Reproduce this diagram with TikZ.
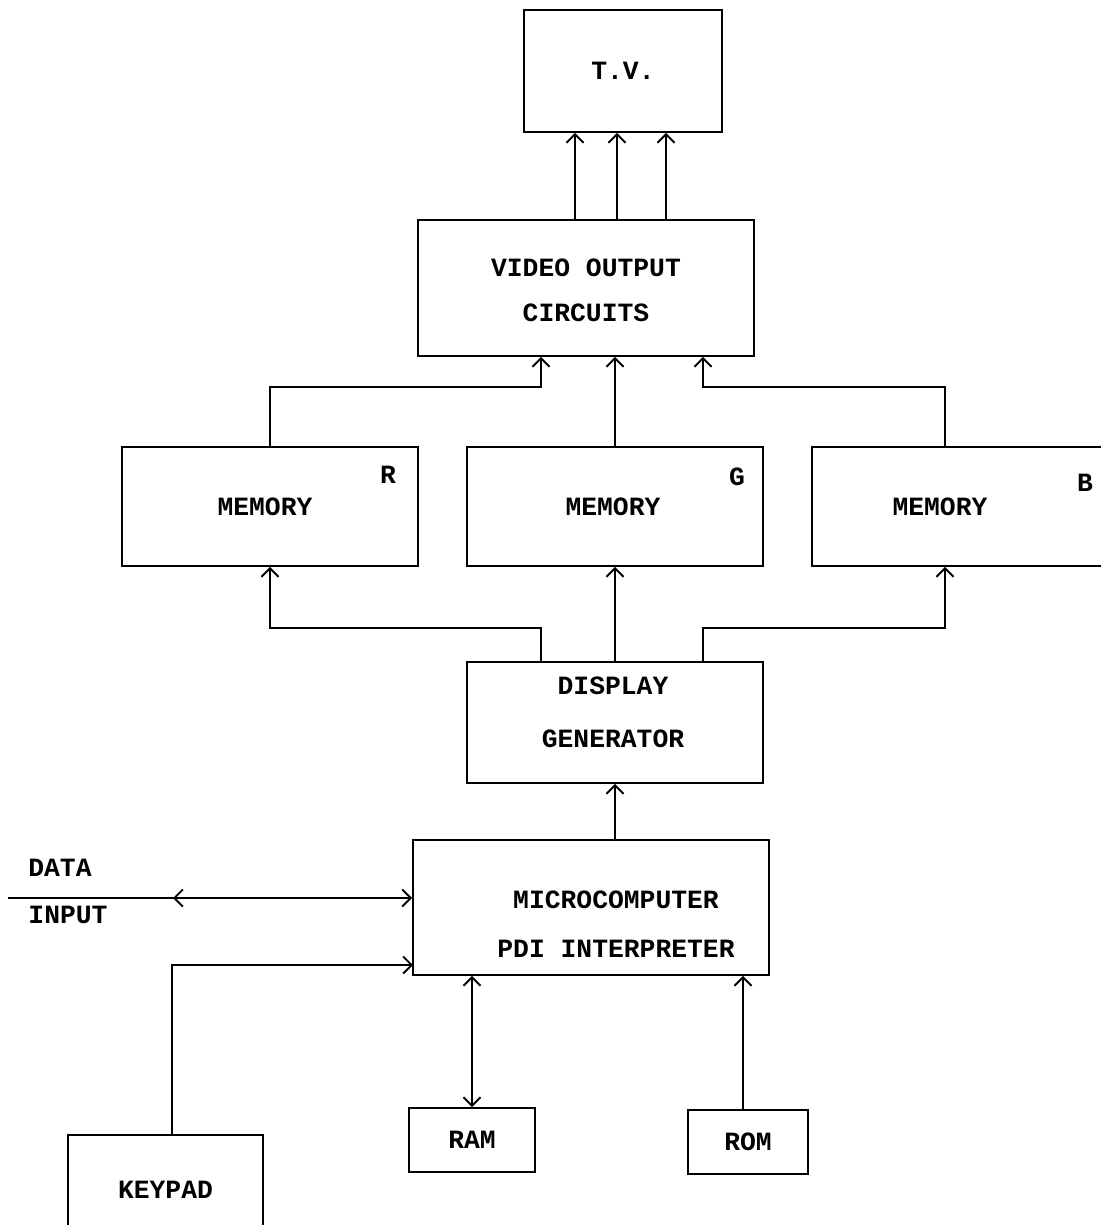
\documentclass[tikz,border=0pt]{standalone}
\usepackage{fontspec}
\setmonofont{Liberation Mono}
\usetikzlibrary{arrows.meta}
\tikzset{
	blk/.style={draw, line width=1.1pt, inner sep=0pt, font=\ttfamily\bfseries\fontsize{15}{18}\selectfont, align=center},
	txt/.style={inner sep=0pt, align=center, font=\ttfamily\bfseries\fontsize{15}{18}\selectfont},
	arr/.style={line width=1.1pt, -{Straight Barb[length=1.7mm,width=3.4mm]}},
	darr/.style={line width=1.1pt, {Straight Barb[length=1.7mm,width=3.4mm]}-{Straight Barb[length=1.7mm,width=3.4mm]}},
	wire/.style={line width=1.1pt}
}

\begin{document}
\begin{tikzpicture}[x=0.02cm, y=-0.02cm]
		%%%%% START %%%%%
		\useasboundingbox (0, 0) rectangle (1101, 1225);
		
		\node[blk, minimum width=3.96cm, minimum height=2.44cm] (tv) at (623, 71) {T.V.};
		\node[blk, minimum width=6.72cm, minimum height=2.72cm] (video) at (586, 288) {};
		\node[txt] (videot) at (586, 290) {VIDEO OUTPUT\\[0.27cm]CIRCUITS};
		
		\node[blk, minimum width=5.92cm, minimum height=2.38cm] (memR) at (270, 506.5) {};
		\node[blk, minimum width=5.92cm, minimum height=2.38cm] (memG) at (615, 506.5) {};
		\node[blk, minimum width=6.16cm, minimum height=2.38cm] (memB) at (966, 506.5) {};
		\node[txt] (memRt) at (265, 507) {MEMORY};
		\node[txt] (memGt) at (613, 507) {MEMORY};
		\node[txt] (memBt) at (940, 507) {MEMORY};
		\node[txt] (lr) at (388, 475) {R};
		\node[txt] (lg) at (737, 477) {G};
		\node[txt] (lb) at (1085, 483) {B};
		
		\node[blk, minimum width=5.92cm, minimum height=2.42cm] (disp) at (615, 722.5) {};
		\node[txt] (dispt) at (613, 712) {DISPLAY\\[0.42cm]GENERATOR};
		\node[blk, minimum width=7.12cm, minimum height=2.7cm] (mc) at (591, 907.5) {};
		\node[txt] (mct) at (616, 924) {MICROCOMPUTER\\[0.34cm]PDI INTERPRETER};
		
		\node[blk, minimum width=2.52cm, minimum height=1.28cm] (ram) at (472, 1140) {RAM};
		\node[blk, minimum width=2.4cm, minimum height=1.28cm] (rom) at (748, 1142) {ROM};
		\node[blk, minimum width=3.9cm, minimum height=2.2cm] (kp) at (165.5, 1190) {KEYPAD};
		
		\node[txt] (ldata) at (60, 868) {DATA};
		\node[txt] (linput) at (68, 915) {INPUT};
		
		% video circuits to T.V.
		\foreach \dx in {-0.96cm, -0.12cm, 0.86cm}
			\draw[arr] ([xshift=\dx]tv.south |- video.north) -- ([xshift=\dx]tv.south);
		
		% memories to video circuits
		\coordinate (vr) at (541, 387);
		\coordinate (vb) at (703, 387);
		\draw[arr] (memR.north) |- (vr) -- (vr |- video.south);
		\draw[arr] (memG.north) -- (memG.north |- video.south);
		\draw[arr] ([xshift=-0.42cm]memB.north) |- (vb) -- (vb |- video.south);
		
		% display generator to memories
		\coordinate (dl) at (541, 628);
		\coordinate (dr) at (703, 628);
		\draw[arr] (dl |- disp.north) -- (dl) -| (memR.south);
		\draw[arr] (disp.north) -- (memG.south);
		\draw[arr] (dr |- disp.north) -- (dr) -| ([xshift=-0.42cm]memB.south);
		
		\draw[arr] (disp.south |- mc.north) -- (disp.south);
		
		% data input and keypad
		\coordinate (din) at (8, 898);
		\coordinate (dmid) at (200, 898);
		\coordinate (dtip) at (173, 898);
		\draw[arr] (din) -- (din -| mc.west);
		\draw[arr] (dmid) -- (dtip);
		\coordinate (kin) at (413, 965);
		\draw[arr] ([xshift=0.13cm]kp.north) |- (kin);
		
		% memories to microcomputer
		\draw[darr] (ram.north) -- (ram.north |- mc.south);
		\draw[arr] ([xshift=-0.1cm]rom.north) -- ([xshift=-0.1cm]rom.north |- mc.south);
		
		%%%%% END %%%%%
	\end{tikzpicture}
\end{document}
